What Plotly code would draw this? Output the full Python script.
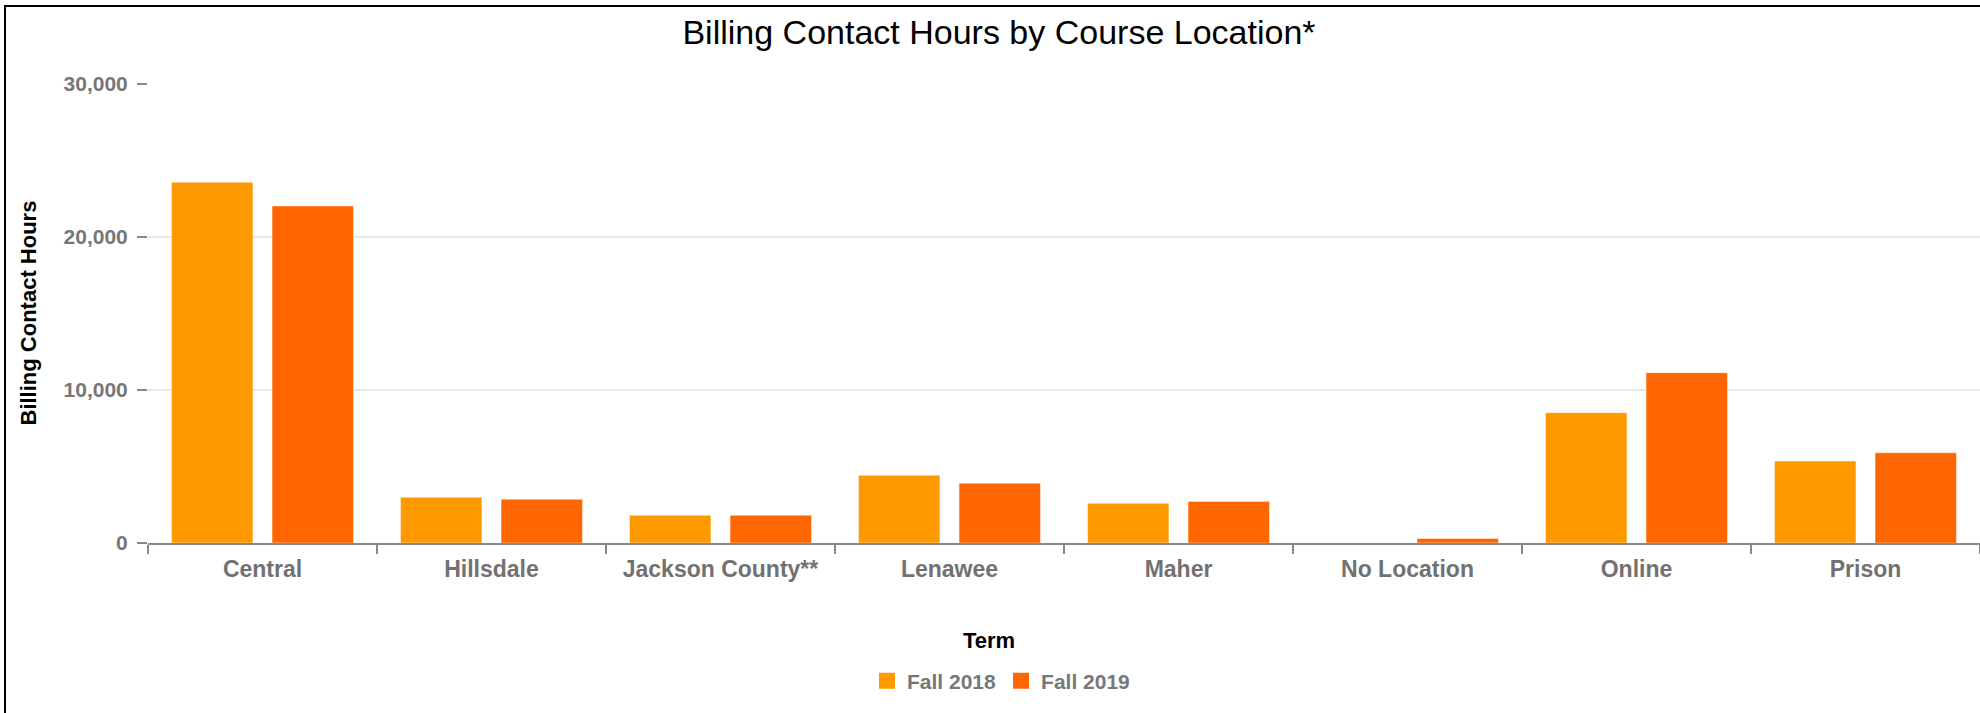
import plotly.graph_objects as go

categories = ["Central", "Hillsdale", "Jackson County**", "Lenawee", "Maher",
              "No Location", "Online", "Prison"]
fall_2018 = [23580, 2990, 1810, 4430, 2600, 0, 8520, 5360]
fall_2019 = [22030, 2860, 1810, 3900, 2720, 300, 11130, 5900]
series_names = ["Fall 2018", "Fall 2019"]
series_colors = ["#FF9900", "#FF6600"]
y_ticks = [0, 10000, 20000, 30000]
y_tick_labels = ["0", "10,000", "20,000", "30,000"]

W, H = 1980, 713
L, R, T, B = 148, 0, 84, 170
pw, ph = W - L - R, H - T - B

def px(xv):  # page pixel -> paper x
    return (xv - L) / pw

def py(yv):  # page pixel (from top) -> paper y
    return (H - B - yv) / ph

FONT = "Liberation Sans, Arial, sans-serif"

fig = go.Figure()
for name, vals, col in zip(series_names, [fall_2018, fall_2019], series_colors):
    fig.add_trace(go.Bar(
        name=name, x=categories, y=vals, marker_color=col,
        marker_line=dict(color="rgba(255,255,255,0.45)", width=1),
        showlegend=False,
    ))
# legend entries with larger square swatches
for name, col in zip(series_names, series_colors):
    fig.add_trace(go.Scatter(
        name=name, x=[None], y=[None], mode="markers",
        marker=dict(symbol="square", size=16, color=col),
        showlegend=True,
    ))

fig.update_layout(
    width=W, height=H,
    margin=dict(l=L, r=R, t=T, b=B, autoexpand=False),
    paper_bgcolor="white", plot_bgcolor="white",
    barmode="group", bargap=0.122, bargroupgap=0.19,
    title=dict(text="Billing Contact Hours by Course Location*",
               font=dict(family=FONT, size=34, color="#000000"),
               x=999 / W, xref="container", xanchor="center",
               y=1 - 32 / H, yref="container", yanchor="middle"),
    font=dict(family=FONT),
    showlegend=True,
    legend=dict(orientation="h", x=px(1001), xanchor="center",
                y=py(681), yanchor="middle",
                font=dict(family=FONT, size=21, color="#777777", weight="bold"),
                itemwidth=30, traceorder="normal", bgcolor="rgba(0,0,0,0)"),
)
fig.update_xaxes(
    showline=True, linecolor="#888888", linewidth=2,
    ticks="outside", tickson="boundaries", ticklen=9, tickcolor="#888888", tickwidth=2,
    tickfont=dict(family=FONT, size=23, color="#717171", weight="bold"),
    ticklabelstandoff=4,
    showgrid=False, title=None,
)
fig.update_yaxes(
    range=[0, 30000], tickvals=y_ticks, ticktext=y_tick_labels,
    showline=False, ticks="outside", ticklen=10, tickcolor="#888888", tickwidth=2,
    tickfont=dict(family=FONT, size=21, color="#777777", weight="bold"),
    ticklabelstandoff=5,
    showgrid=True, gridcolor="#e8e8e8", gridwidth=2, zeroline=False,
    title=None,
)

# axis / legend titles
fig.add_annotation(text="<b>Billing Contact Hours</b>", textangle=-90,
                   xref="paper", yref="paper", x=px(28), y=0.5,
                   xanchor="center", yanchor="middle", showarrow=False,
                   font=dict(family=FONT, size=22, color="#000000"))
fig.add_annotation(text="<b>Term</b>",
                   xref="paper", yref="paper", x=px(989), y=py(640),
                   xanchor="center", yanchor="middle", showarrow=False,
                   font=dict(family=FONT, size=22, color="#000000"))

# outer frame lines (left and top)
fig.add_shape(type="line", xref="paper", yref="paper",
              x0=px(5), x1=px(5), y0=py(5), y1=py(H + 2),
              line=dict(color="#000000", width=2))
fig.add_shape(type="line", xref="paper", yref="paper",
              x0=px(4), x1=px(W + 2), y0=py(6), y1=py(6),
              line=dict(color="#000000", width=2))

fig.write_html("out.html",
               config={"displayModeBar": False},
               post_script="document.body.style.margin='0';"
                           "document.body.style.overflow='hidden';")
